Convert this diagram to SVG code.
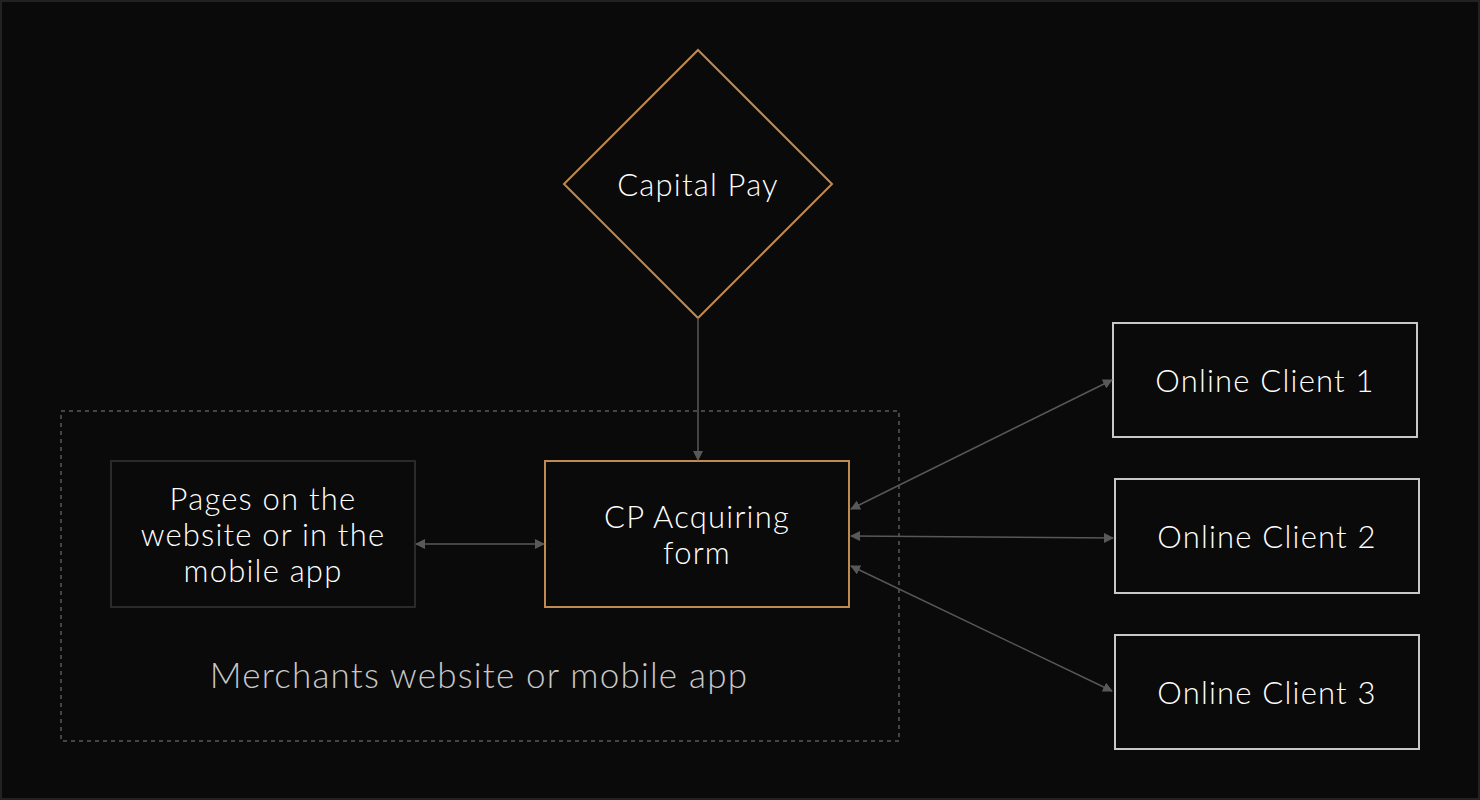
<svg xmlns="http://www.w3.org/2000/svg" width="1480" height="800" viewBox="0 0 1480 800">
<style>
text{font-family:"Lato","Open Sans",sans-serif;fill:#fff;text-anchor:middle;font-weight:300;letter-spacing:1.2px}
.c{stroke:#585858;stroke-width:1.5;fill:none}
.cl{fill:none;stroke:#c8c8c8;stroke-width:2}
</style>
<defs>
<marker id="a" viewBox="0 0 10 10" refX="9" refY="5" markerWidth="10" markerHeight="10" orient="auto-start-reverse" markerUnits="userSpaceOnUse"><path d="M0,0L10,5L0,10z" fill="#585858"/></marker>
</defs>
<rect x="1" y="1" width="1478" height="798" fill="#0a0a0a" stroke="#222" stroke-width="2"/>
<g id="group">
<rect x="61" y="411" width="838" height="330" fill="none" stroke="#5a5a5a" stroke-width="1.5" stroke-dasharray="4 4"/>
<text x="479" y="688" font-size="35" style="fill:#c8c8c8">Merchants website or mobile app</text>
</g>
<g id="capital">
<polygon points="698,50 832,184 698,318 564,184" fill="none" stroke="#c08a50" stroke-width="2"/>
<text x="698" y="196" font-size="31">Capital Pay</text>
</g>
<g id="pages">
<rect x="111" y="461" width="304" height="146" fill="none" stroke="#2a2a2a" stroke-width="2"/>
<text font-size="31"><tspan x="263" y="510">Pages on the</tspan><tspan x="263" y="546">website or in the</tspan><tspan x="263" y="582">mobile app</tspan></text>
</g>
<g id="form">
<rect x="545" y="461" width="304" height="146" fill="none" stroke="#c08a50" stroke-width="2"/>
<text font-size="31"><tspan x="697" y="528">CP Acquiring</tspan><tspan x="697" y="564">form</tspan></text>
</g>
<g id="c1"><rect x="1113" y="323" width="304" height="114" class="cl"/><text x="1265" y="392" font-size="31">Online Client 1</text></g>
<g id="c2"><rect x="1115" y="479" width="304" height="114" class="cl"/><text x="1267" y="548" font-size="31">Online Client 2</text></g>
<g id="c3"><rect x="1115" y="635" width="304" height="114" class="cl"/><text x="1267" y="704" font-size="31">Online Client 3</text></g>
<g id="connectors">
<line x1="698" y1="318" x2="698" y2="460" class="c" marker-end="url(#a)"/>
<line x1="416" y1="544" x2="544" y2="544" class="c" marker-start="url(#a)" marker-end="url(#a)"/>
<line x1="851" y1="509" x2="1112" y2="380" class="c" marker-start="url(#a)" marker-end="url(#a)"/>
<line x1="851" y1="536" x2="1113" y2="538" class="c" marker-start="url(#a)" marker-end="url(#a)"/>
<line x1="851" y1="566" x2="1112" y2="691" class="c" marker-start="url(#a)" marker-end="url(#a)"/>
</g>
</svg>
